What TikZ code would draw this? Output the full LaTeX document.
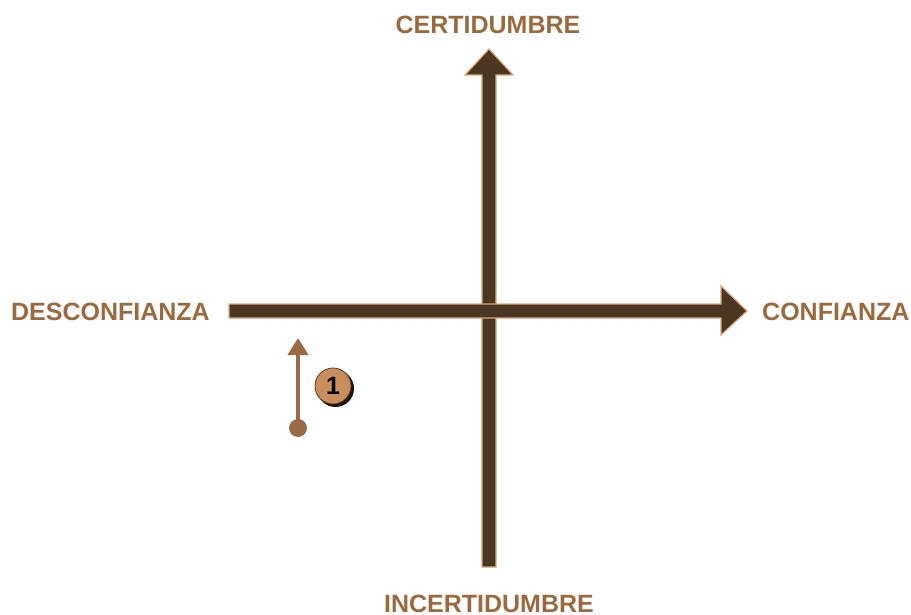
\documentclass[tikz,border=0pt]{standalone}
\usepackage{fontspec}
\setmainfont{Liberation Sans}
\usetikzlibrary{arrows.meta}
\definecolor{axdark}{HTML}{4B3621}
\definecolor{axedge}{HTML}{D9A87C}
\definecolor{lbl}{HTML}{9A6A3E}
\definecolor{small}{HTML}{9B6B45}
\definecolor{coin}{HTML}{C98E5B}
\definecolor{coinedge}{HTML}{5A3A20}
\tikzset{
  axis/.style={fill=axdark, draw=axedge, line width=1.2pt, line join=miter},
  lab/.style={text=lbl, font=\bfseries\fontsize{25}{27}\selectfont, inner sep=0pt, text depth=0pt, anchor=base},
}
\begin{document}
\begin{tikzpicture}[x=1pt,y=-1pt]
\useasboundingbox (0,0) rectangle (911,615);
% vertical axis
\coordinate (vb) at (489,567);
\coordinate (vt) at (489,49);
\path[axis] (482,567) -- (482,75) -- (465,75) -- (vt) -- (513,75) -- (496,75) -- (496,567) -- cycle;
% horizontal axis
\coordinate (hl) at (229,311);
\coordinate (hr) at (747,311);
\path[axis] (229,304) -- (721,304) -- (721,286) -- (hr) -- (721,335) -- (721,318) -- (229,318) -- cycle;
% labels
\node[lab] (cert) at (488,34) {CERTIDUMBRE};
\node[lab] (inc) at (489,612) {INCERTIDUMBRE};
\node[lab, anchor=base west] (desc) at (11,320) {DESCONFIANZA};
\node[lab, anchor=base west] (conf) at (762,320) {CONFIANZA};
% small arrow
\coordinate (s0) at (298,428);
\coordinate (s1) at (298,338);
\fill[small] (s0) circle (9);
\draw[small, line width=4.5pt, -{Triangle[length=17pt,width=20pt]}] (s0) -- (s1);
% numbered badge
\fill[black!70!coinedge] (335.5,388.5) circle (18.5);
\node[circle, fill=coin, draw=coinedge, line width=0.8pt, minimum size=36pt, inner sep=0pt,
      font=\bfseries\fontsize{25}{27}\selectfont] (n1) at (333,386) {1};
\end{tikzpicture}
\end{document}
